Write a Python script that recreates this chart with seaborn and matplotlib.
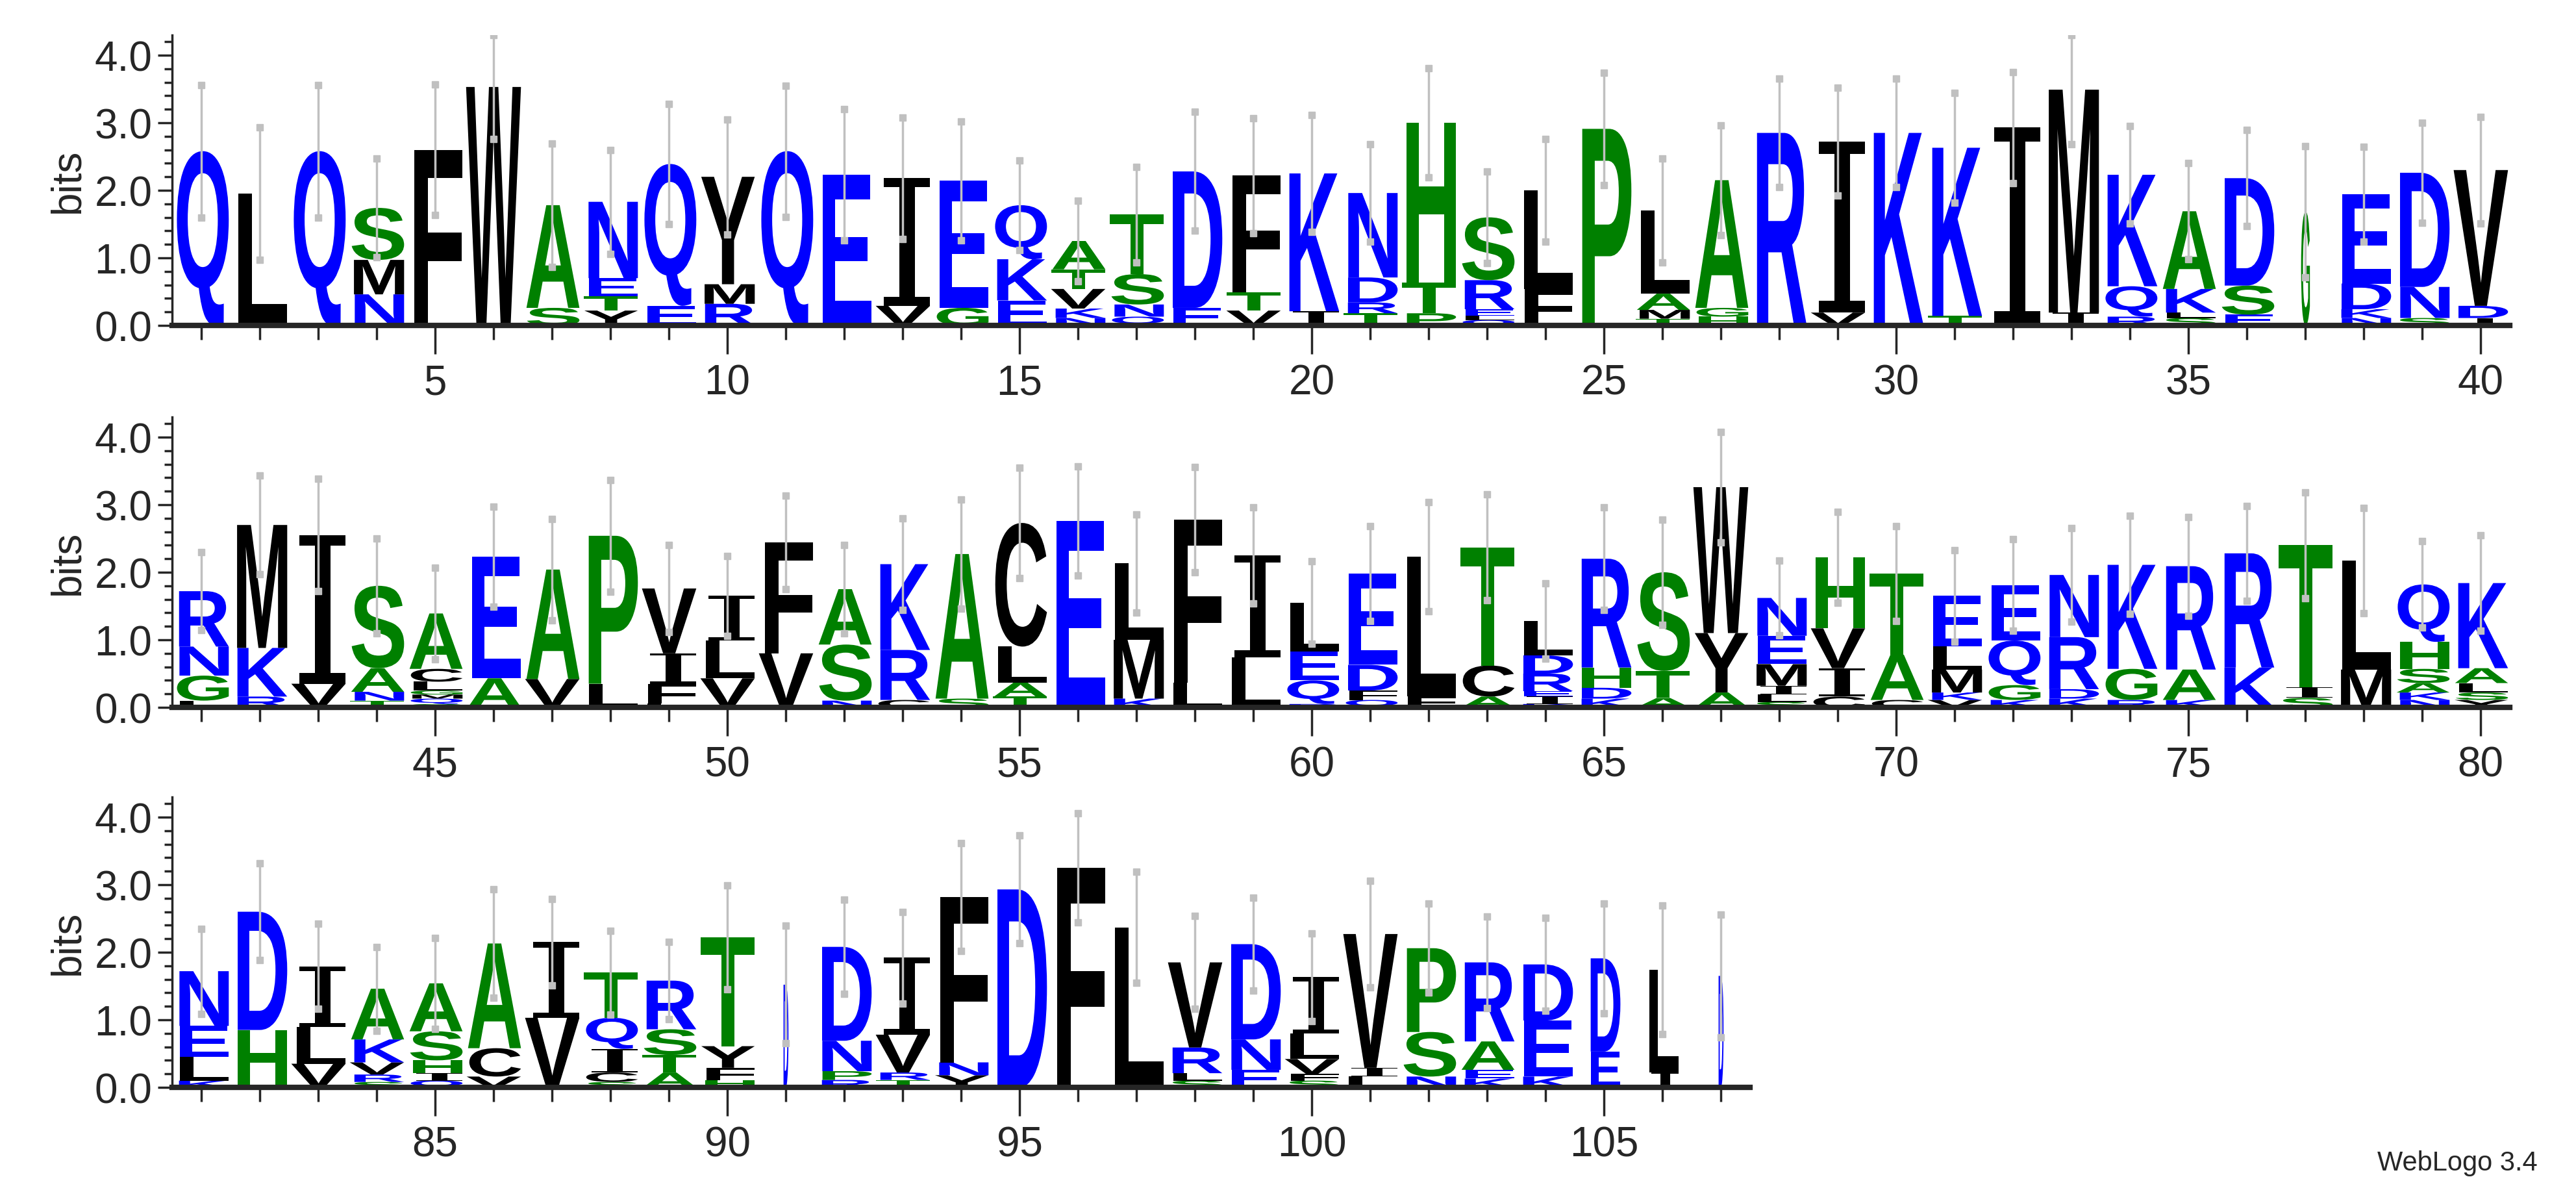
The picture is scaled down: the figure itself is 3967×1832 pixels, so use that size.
import matplotlib
matplotlib.use("Agg")
import matplotlib.pyplot as plt
import seaborn as sns
import numpy as np
from matplotlib.textpath import TextPath
from matplotlib.font_manager import FontProperties
from matplotlib.patches import PathPatch
from matplotlib.path import Path
from matplotlib.ticker import MultipleLocator

sns.set_style("ticks")
plt.rcParams['font.family'] = ['Liberation Sans', 'DejaVu Sans']

# stacks bottom -> top, "letter:bits"
STACKS = [
 "Q:2.58", "L:1.95", "Q:2.58", "N:0.46 M:0.51 S:0.77", "F:2.6", "W:3.53",
 "S:0.26 A:1.52", "Y:0.22 T:0.21 E:0.27 N:1.13", "E:0.29 Q:2.1", "R:0.32 M:0.29 Y:1.59",
 "Q:2.58", "E:2.23", "V:0.29 I:1.89", "G:0.26 E:1.88", "E:0.37 K:0.61 Q:0.8",
 "N:0.11 K:0.14 V:0.29 T:0.29 A:0.42", "Q:0.13 N:0.18 S:0.45 T:0.88", "E:0.26 D:2.02",
 "V:0.22 T:0.27 F:1.73", "I:0.21 K:2.04", "T:0.18 R:0.16 D:0.37 N:1.25",
 "P:0.18 T:0.45 H:2.37", "Q:0.08 L:0.06 E:0.1 R:0.43 S:0.93", "F:0.54 L:1.46", "P:2.91",
 "T:0.1 M:0.13 A:0.24 L:1.23", "H:0.13 G:0.13 A:1.89", "R:2.85", "V:0.19 I:2.53", "K:2.85",
 "T:0.14 K:2.49", "I:2.93", "I:0.19 M:3.3", "R:0.13 Q:0.45 K:1.65",
 "S:0.11 L:0.08 K:0.35 A:1.15", "E:0.16 S:0.43 D:1.59", "G:1.68",
 "N:0.11 K:0.13 D:0.38 E:1.32", "S:0.11 N:0.46 D:1.69", "I:0.11 D:0.18 V:2.01",
 "L:0.1 G:0.37 N:0.43 R:0.82", "R:0.16 K:0.72 M:1.82", "V:0.35 I:2.2",
 "T:0.1 N:0.13 A:0.35 S:1.22", "S:0.05 Q:0.08 M:0.06 G:0.06 L:0.13 C:0.19 A:0.82",
 "A:0.43 E:1.8", "V:0.42 A:1.62", "L:0.35 P:2.19", "L:0.06 F:0.29 I:0.45 V:0.96",
 "V:0.43 L:0.56 I:0.66", "V:0.8 F:1.64", "N:0.1 S:0.83 A:0.82", "C:0.11 R:0.74 K:1.27",
 "S:0.13 A:2.14", "T:0.16 A:0.21 L:0.53 C:1.83", "E:2.76", "K:0.13 M:0.87 L:1.13",
 "L:0.37 F:2.41", "L:0.74 I:1.51", "R:0.05 Q:0.35 E:0.43 L:0.72",
 "Q:0.11 F:0.14 D:0.38 E:1.35", "F:0.16 L:2.07", "A:0.16 C:0.46 T:1.75",
 "K:0.05 I:0.11 E:0.08 R:0.26 D:0.27 L:0.51", "K:0.13 D:0.16 H:0.3 R:1.61",
 "A:0.14 T:0.4 S:1.46", "A:0.22 Y:0.88 W:2.16", "S:0.08 L:0.11 I:0.13 M:0.32 E:0.42 N:0.56",
 "C:0.16 I:0.42 V:0.59 H:1.05", "C:0.11 A:0.67 T:1.2", "V:0.11 K:0.11 M:0.34 L:0.34 E:0.75",
 "K:0.11 G:0.22 Q:0.66 E:0.82", "K:0.13 D:0.14 R:0.77 N:0.92", "R:0.11 G:0.46 K:1.54",
 "K:0.11 A:0.45 R:1.53", "K:0.59 R:1.69", "S:0.14 I:0.16 T:2.1", "M:0.56 L:1.61",
 "N:0.11 K:0.11 A:0.14 S:0.21 H:0.4 Q:0.85", "Y:0.11 S:0.11 L:0.14 A:0.22 K:1.26",
 "K:0.1 L:0.35 E:0.46 N:0.81", "H:0.85 D:1.75", "V:0.35 L:0.54 I:0.9",
 "S:0.08 R:0.11 V:0.18 K:0.34 A:0.75", "Q:0.1 I:0.11 H:0.19 S:0.43 A:0.71",
 "V:0.16 C:0.42 A:1.55", "V:1.03 I:1.12", "S:0.08 C:0.14 I:0.35 Q:0.46 T:0.67",
 "A:0.22 T:0.26 S:0.38 R:0.72", "H:0.11 F:0.18 Y:0.32 T:1.61", "D:1.52",
 "R:0.11 P:0.13 N:0.45 D:1.39", "T:0.11 R:0.11 V:0.56 I:1.14", "Y:0.18 N:0.19 F:2.45",
 "D:2.93", "F:3.25", "L:2.37", "S:0.1 L:0.11 R:0.38 V:1.26", "E:0.26 N:0.45 D:1.41",
 "S:0.1 F:0.1 V:0.22 L:0.38 I:0.83", "L:0.16 I:0.13 V:1.98", "N:0.16 S:0.66 P:1.24",
 "K:0.13 E:0.13 A:0.42 R:1.17", "K:0.16 E:0.83 D:0.83", "E:0.53 D:1.38", "I:0.22 L:1.52",
 "D:1.65",
]
ERR_UPPER = [
 3.56, 2.93, 3.56, 2.47, 3.57, 4.3, 2.69, 2.6, 3.28, 3.05,
 3.55, 3.2, 3.08, 3.02, 2.44, 1.85, 2.35, 3.16, 3.07, 3.12,
 2.68, 3.81, 2.28, 2.76, 3.74, 2.47, 2.96, 3.65, 3.52, 3.65,
 3.44, 3.75, 4.3, 2.95, 2.4, 2.89, 2.65, 2.64, 3.0, 3.09,
 2.3, 3.43, 3.38, 2.5, 2.07, 2.97, 2.79, 3.37, 2.4, 2.24,
 3.13, 2.4, 2.8, 3.08, 3.55, 3.57, 2.86, 3.56, 2.96, 2.16,
 2.68, 3.04, 3.15, 1.84, 2.96, 2.78, 4.08, 2.17, 2.89, 2.68,
 2.33, 2.49, 2.65, 2.84, 2.82, 2.98, 3.18, 2.95, 2.46, 2.55,
 2.35, 3.32, 2.42, 2.08, 2.21, 2.93, 2.79, 2.32, 2.15, 2.99,
 2.39, 2.78, 2.6, 3.62, 3.73, 4.06, 3.19, 2.54, 2.81, 2.28,
 3.06, 2.72, 2.53, 2.51, 2.72, 2.69, 2.56,
]
# column width fraction (low occupancy columns are narrow)
NARROW = {37: 0.17, 91: 0.1, 105: 0.6, 106: 0.6, 107: 0.1}
ROWS = [(1, 40), (41, 80), (81, 107)]

BLUE, GREEN, BLACK = "#0000ff", "#008000", "#000000"
COLORS = {}
for c in "QNERKD": COLORS[c] = BLUE
for c in "STAGHP": COLORS[c] = GREEN
for c in "LFWYMIVC": COLORS[c] = BLACK

fp = FontProperties(family="Liberation Sans", weight="bold")
fp_serif = FontProperties(family="DejaVu Serif", weight="normal")
GLYPHS = {}
def glyph(ch):
    if ch not in GLYPHS:
        tp = TextPath((0, 0), ch, size=1, prop=fp_serif if ch == "I" else fp)
        v = tp.vertices.copy()
        mn, mx = v.min(0), v.max(0)
        v = (v - mn) / (mx - mn)
        GLYPHS[ch] = (v, tp.codes)
    return GLYPHS[ch]

fig = plt.figure(figsize=(39.67, 18.33), dpi=100)
H = 1833.0; W = 3967.0
px_per_pos = 90.0
left = 265.0
baselines = [502.0, 1090.0, 1675.0]
ax_h = 4.3 * 104.0
FS = 46

for (start, end), base in zip(ROWS, baselines):
    npos = end - start + 1
    ax = fig.add_axes([left / W, 1 - base / H, npos * px_per_pos / W, ax_h / H])
    ax.set_xlim(start - 0.5, end + 0.5)
    ax.set_ylim(0, 4.3)
    for p in range(start, end + 1):
        wfrac = NARROW.get(p, 1.0) * 0.94
        y = 0.0
        for item in STACKS[p - 1].split():
            ch, hh = item.split(":")
            hh = float(hh)
            v, codes = glyph(ch)
            vv = v.copy()
            vv[:, 0] = p - wfrac / 2 + vv[:, 0] * wfrac
            vv[:, 1] = y + vv[:, 1] * hh
            ax.add_patch(PathPatch(Path(vv, codes), facecolor=COLORS[ch],
                                   edgecolor="none", lw=0))
            y += hh
        up = ERR_UPPER[p - 1]
        lo = y - (up - y)
        ax.vlines(p, lo, up, color="#c0c0c0", lw=2.5, zorder=5)
        ax.plot([p, p], [lo, up], ls="none", marker="s", ms=7, color="#c0c0c0", zorder=5)
    sns.despine(ax=ax)
    ax.spines["left"].set_linewidth(2.5)
    ax.spines["bottom"].set_linewidth(6)
    ax.set_yticks([0, 1, 2, 3, 4])
    ax.set_yticklabels(["0.0", "1.0", "2.0", "3.0", "4.0"], fontsize=FS)
    ax.yaxis.set_minor_locator(MultipleLocator(0.2))
    ax.tick_params(axis="y", which="major", length=16, width=2.5, direction="out", pad=6)
    ax.tick_params(axis="y", which="minor", length=9, width=2.5, direction="out")
    majors = [t for t in range(start, end + 1) if t % 5 == 0]
    ax.set_xticks(majors)
    ax.set_xticklabels([str(t) for t in majors], fontsize=FS)
    ax.set_xticks(list(range(start, end + 1)), minor=True)
    ax.tick_params(axis="x", which="major", length=32, width=2.5, direction="out", pad=10)
    ax.tick_params(axis="x", which="minor", length=16, width=2.5, direction="out")
    ax.set_ylabel("bits", fontsize=FS, labelpad=8)

fig.text(0.985, 0.012, "WebLogo 3.4", ha="right", va="bottom", fontsize=30)
fig.savefig("out.png", dpi=100, facecolor="white")
